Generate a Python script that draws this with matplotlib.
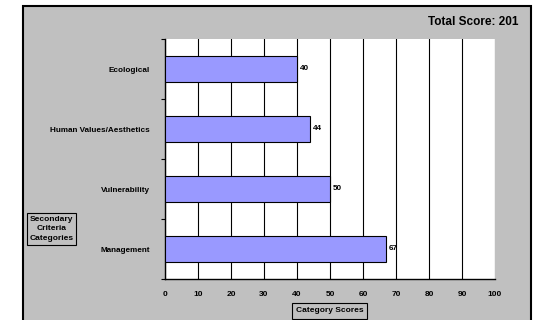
import matplotlib.pyplot as plt
from matplotlib.patches import Rectangle

categories = ["Management", "Vulnerability", "Human Values/Aesthetics", "Ecological"]
scores = [67, 50, 44, 40]
x_ticks = [0, 10, 20, 30, 40, 50, 60, 70, 80, 90, 100]
total = sum(scores)

plt.rcParams["font.family"] = ["Liberation Sans", "DejaVu Sans"]
plt.rcParams["font.weight"] = "bold"

W, H = 535, 320
fig = plt.figure(figsize=(W / 100, H / 100), dpi=100)
fig.patch.set_facecolor("white")

# grey chart area with black frame, running off the bottom edge
frame = Rectangle((23 / W, -0.05), (531 - 23) / W, 1 - 6 / H + 0.05,
                  transform=fig.transFigure, facecolor="#c0c0c0",
                  edgecolor="black", linewidth=1.5, zorder=-1)
fig.patches.append(frame)

ax = fig.add_axes([165 / W, 1 - 279 / H, (495 - 165) / W, (279 - 39) / H])
ax.set_facecolor("white")

pos = range(len(categories))
ax.barh(pos, scores, height=0.42, color="#9999ff", edgecolor="black",
        linewidth=0.8, zorder=3)
for p, s in zip(pos, scores):
    ax.text(s + 0.9, p, str(s), va="center", ha="left", fontsize=5.9,
            fontweight="bold")

ax.set_xlim(0, 100)
ax.set_ylim(-0.5, len(categories) - 0.5)
ax.set_xticks(x_ticks)
ax.set_xticklabels([str(t) for t in x_ticks], fontsize=6, fontweight="bold")
ax.tick_params(axis="x", length=0, pad=9)
ax.xaxis.grid(True, color="black", linewidth=0.8, zorder=1)
ax.set_axisbelow(True)

ax.set_yticks(list(pos))
ax.set_yticklabels(categories, fontsize=5.9, fontweight="bold")
ax.tick_params(axis="y", length=0, pad=11)
ax.set_yticks([p + 0.5 for p in range(-1, len(categories))], minor=True)
ax.tick_params(axis="y", which="minor", length=3, width=0.8, direction="out")

for side in ["top", "right"]:
    ax.spines[side].set_visible(False)
ax.spines["left"].set_linewidth(1)
ax.spines["bottom"].set_linewidth(1)

fig.text(518 / W, 1 - 22 / H, f"Total Score: {total}", ha="right",
         va="center", fontsize=8.5, fontweight="bold")

fig.text(51.5 / W, 1 - 229 / H, "Secondary\nCriteria\nCategories",
         ha="center", va="center", fontsize=6, fontweight="bold",
         linespacing=1.5,
         bbox=dict(boxstyle="square,pad=0.35", facecolor="#c0c0c0",
                   edgecolor="black", linewidth=0.8))

fig.text(329.5 / W, 1 - 311 / H, "Category Scores", ha="center",
         va="center", fontsize=6, fontweight="bold",
         bbox=dict(boxstyle="square,pad=0.5", facecolor="#c0c0c0",
                   edgecolor="black", linewidth=0.8))

fig.savefig("out.png", dpi=100)
